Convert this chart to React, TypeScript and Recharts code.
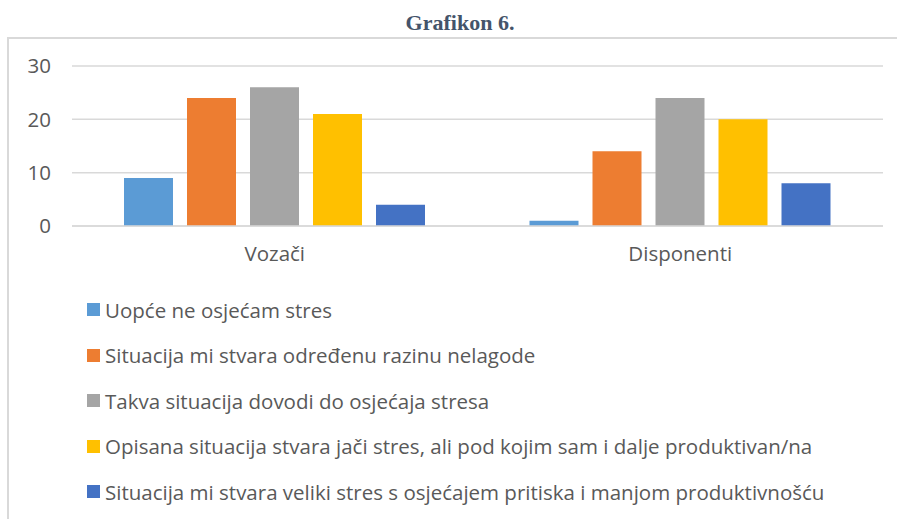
import React from "react";
import {
  BarChart,
  Bar,
  XAxis,
  YAxis,
  CartesianGrid,
  Legend,
} from "recharts";

const groups = ["Vozači", "Disponenti"];
const uopce = [9, 1];
const odredenu = [24, 14];
const takva = [26, 24];
const opisana = [21, 20];
const veliki = [4, 8];
const yTicks = [0, 10, 20, 30];

const seriesNames = [
  "Uopće ne osjećam stres",
  "Situacija mi stvara određenu razinu nelagode",
  "Takva situacija dovodi do osjećaja stresa",
  "Opisana situacija stvara jači stres, ali pod kojim sam i dalje produktivan/na",
  "Situacija mi stvara veliki stres s osjećajem pritiska i manjom produktivnošću",
];
const colors = ["#5B9BD5", "#ED7D31", "#A5A5A5", "#FFC000", "#4472C4"];

const data = groups.map((g, i) => ({
  name: g,
  s0: uopce[i],
  s1: odredenu[i],
  s2: takva[i],
  s3: opisana[i],
  s4: veliki[i],
}));

const FONT = "'Open Sans', sans-serif";
const TEXT = "#595959";

function StressLegend() {
  return (
    <div style={{ fontFamily: FONT, fontSize: 20.5, color: TEXT }}>
      {seriesNames.map((n, i) => (
        <div
          key={n}
          style={{ display: "flex", alignItems: "center", height: 45.5 }}
        >
          <span
            style={{
              width: 13,
              height: 13,
              background: colors[i],
              marginRight: 5,
              flexShrink: 0,
            }}
          />
          <span style={{ whiteSpace: "nowrap" }}>{n}</span>
        </div>
      ))}
    </div>
  );
}

export default function App() {
  return (
    <div
      style={{
        position: "absolute",
        left: 0,
        top: 0,
        width: 897,
        height: 519,
        overflow: "hidden",
        background: "#fff",
      }}
    >
      <div
        style={{
          position: "absolute",
          top: 10,
          left: 0,
          width: 920,
          textAlign: "center",
          fontFamily: "'Liberation Serif', 'Times New Roman', serif",
          fontWeight: "bold",
          fontSize: 22,
          color: "#44546A",
        }}
      >
        Grafikon 6.
      </div>
      <div
        style={{
          position: "absolute",
          left: 7,
          top: 37,
          width: 900,
          height: 500,
          border: "2px solid #D9D9D9",
          boxSizing: "border-box",
        }}
      />
      <div style={{ position: "absolute", left: 0, top: 0 }}>
        <BarChart
          width={897}
          height={519}
          data={data}
          margin={{ top: 66, right: 14, left: 32, bottom: 263 }}
          barSize={49}
          barGap={14}
        >
          <CartesianGrid
            vertical={false}
            stroke="#D9D9D9"
            strokeWidth={1.5}
          />
          <XAxis
            dataKey="name"
            height={30}
            tickLine={false}
            axisLine={{ stroke: "#D9D9D9", strokeWidth: 1.5 }}
            tickMargin={14}
            tick={{ fontFamily: FONT, fontSize: 20.5, fill: TEXT }}
          />
          <YAxis
            width={40}
            domain={[0, 30]}
            ticks={yTicks}
            axisLine={false}
            tickLine={false}
            tickMargin={15}
            tick={{ fontFamily: FONT, fontSize: 20.5, fill: TEXT }}
          />
          <Legend
            layout="horizontal"
            verticalAlign="middle"
            align="center"
            wrapperStyle={{ top: 287, left: 87, width: 800 }}
            content={<StressLegend />}
          />
          {colors.map((c, i) => (
            <Bar
              key={i}
              dataKey={"s" + i}
              name={seriesNames[i]}
              fill={c}
              isAnimationActive={false}
            />
          ))}
        </BarChart>
      </div>
    </div>
  );
}
